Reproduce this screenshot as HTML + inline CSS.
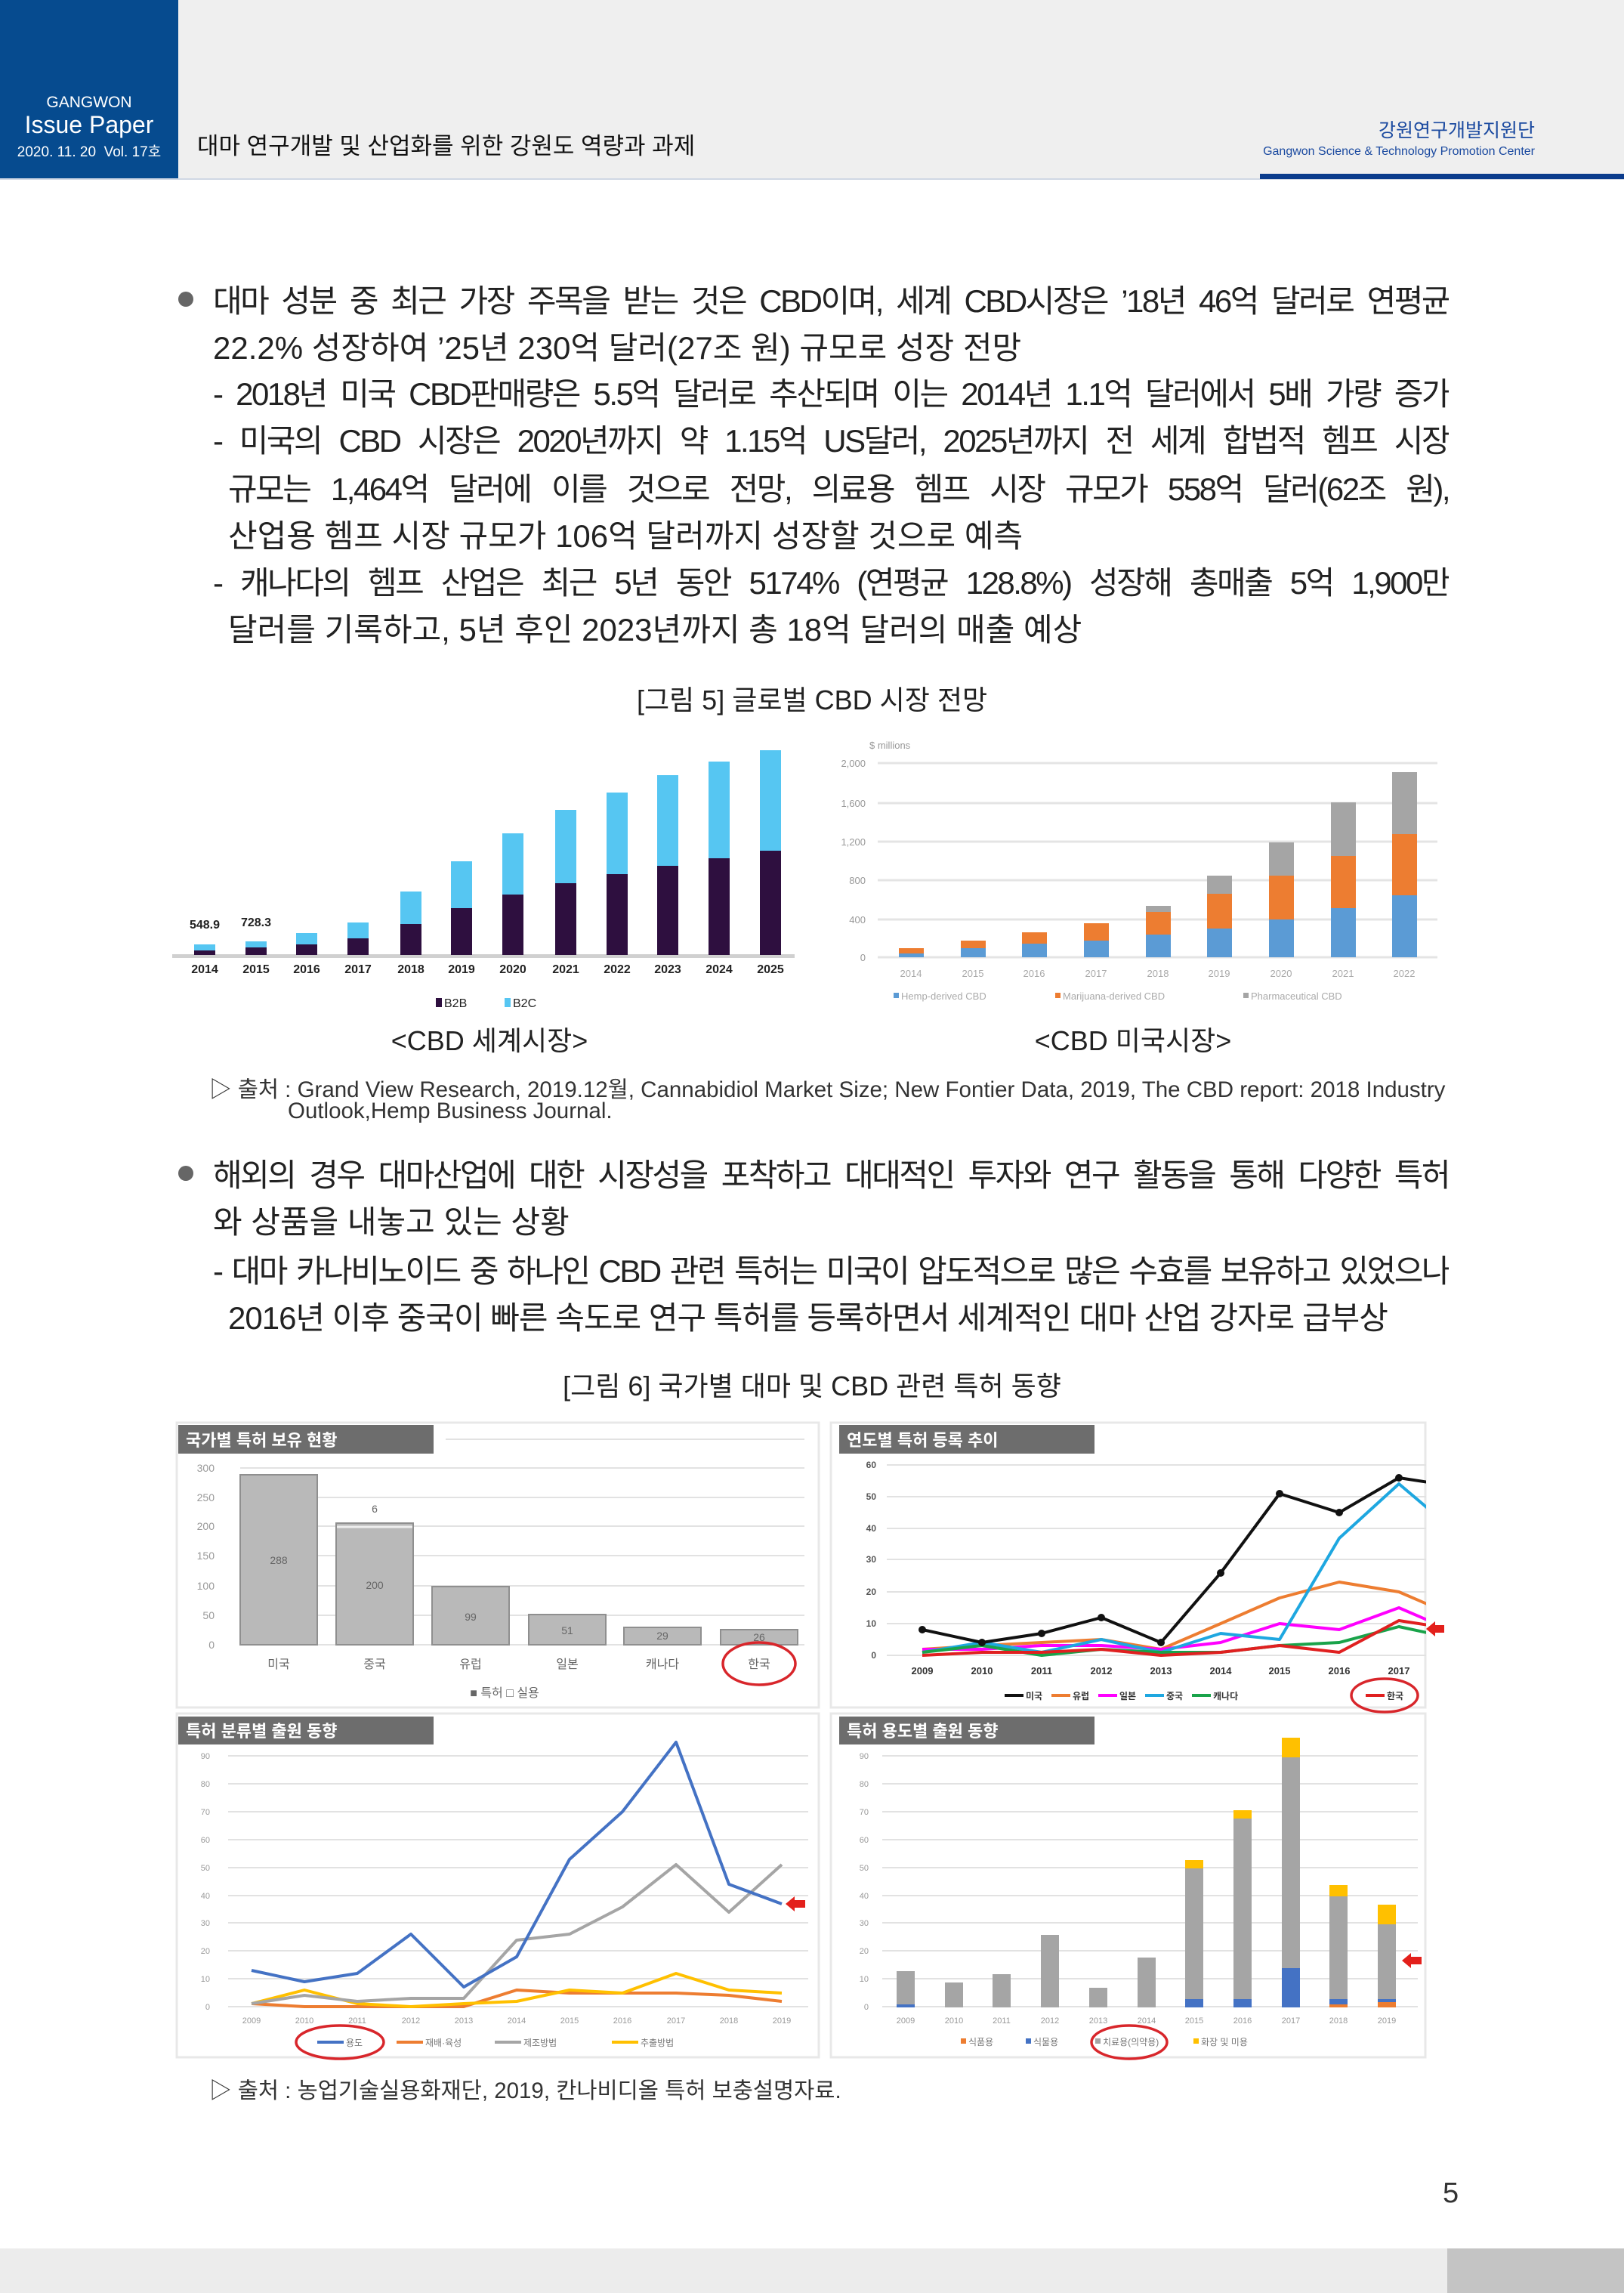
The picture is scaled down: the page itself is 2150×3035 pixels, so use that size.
<!DOCTYPE html>
<html><head><meta charset="utf-8">
<style>
html,body{margin:0;padding:0;}
body{width:2150px;height:3035px;position:relative;background:#fff;font-family:"Liberation Sans","Noto Sans CJK KR",sans-serif;color:#222;overflow:hidden;}
.a{position:absolute;white-space:nowrap;}
.t{position:absolute;font-size:42px;line-height:60px;height:60px;white-space:nowrap;color:#222;}
.j{text-align:justify;text-align-last:justify;white-space:normal;overflow:hidden;letter-spacing:-2.5px;}
svg{position:absolute;left:0;top:0;}
</style></head><body>
<div class="a" style="left:0;top:0;width:2150px;height:236px;background:#efefef;"></div>
<div class="a" style="left:0;top:0;width:236px;height:236px;background:#064b8f;"></div>
<div class="a" style="left:0;top:236px;width:2150px;height:2px;background:#d0d8e4;"></div>
<div class="a" style="left:1668px;top:230px;width:482px;height:7px;background:#0b3c8c;"></div>
<div class="a" style="left:0;top:124px;width:236px;text-align:center;color:#fff;font-size:21px;">GANGWON</div>
<div class="a" style="left:0;top:147px;width:236px;text-align:center;color:#fff;font-size:32px;">Issue Paper</div>
<div class="a" style="left:0;top:186px;width:236px;text-align:center;color:#fff;font-size:19px;">2020. 11. 20 &nbsp;Vol. 17호</div>
<div class="a" style="left:261px;top:168px;font-size:31px;color:#111;">대마 연구개발 및 산업화를 위한 강원도 역량과 과제</div>
<div class="a" style="left:1600px;top:153px;width:432px;text-align:right;font-size:25px;color:#1b4aa0;">강원연구개발지원단</div>
<div class="a" style="left:1600px;top:192px;width:432px;text-align:right;font-size:16px;color:#1b4aa0;">Gangwon Science &amp; Technology Promotion Center</div>

<div class="a" style="left:236px;top:386px;width:20px;height:20px;border-radius:50%;background:#666;"></div>
<div class="t j" style="left:282px;top:369px;width:1636px;">대마 성분 중 최근 가장 주목을 받는 것은 CBD이며, 세계 CBD시장은 ’18년 46억 달러로 연평균</div>
<div class="t" style="left:282px;top:431px;">22.2% 성장하여 ’25년 230억 달러(27조 원) 규모로 성장 전망</div>
<div class="t j" style="left:282px;top:492px;width:1636px;">- 2018년 미국 CBD판매량은 5.5억 달러로 추산되며 이는 2014년 1.1억 달러에서 5배 가량 증가</div>
<div class="t j" style="left:282px;top:554px;width:1636px;">- 미국의 CBD 시장은 2020년까지 약 1.15억 US달러, 2025년까지 전 세계 합법적 헴프 시장</div>
<div class="t j" style="left:302px;top:618px;width:1616px;">규모는 1,464억 달러에 이를 것으로 전망, 의료용 헴프 시장 규모가 558억 달러(62조 원),</div>
<div class="t" style="left:302px;top:680px;">산업용 헴프 시장 규모가 106억 달러까지 성장할 것으로 예측</div>
<div class="t j" style="left:282px;top:742px;width:1636px;">- 캐나다의 헴프 산업은 최근 5년 동안 5174% (연평균 128.8%) 성장해 총매출 5억 1,900만</div>
<div class="t" style="left:302px;top:804px;">달러를 기록하고, 5년 후인 2023년까지 총 18억 달러의 매출 예상</div>

<div class="a" style="left:0;top:898px;width:2150px;text-align:center;font-size:36px;">[그림 5] 글로벌 CBD 시장 전망</div>
<div class="a" style="left:448px;top:1349px;width:400px;text-align:center;font-size:36px;">&lt;CBD 세계시장&gt;</div>
<div class="a" style="left:1300px;top:1349px;width:400px;text-align:center;font-size:36px;">&lt;CBD 미국시장&gt;</div>
<div class="a" style="left:277px;top:1419px;font-size:29.5px;color:#333;">▷ 출처 : Grand View Research, 2019.12월, Cannabidiol Market Size; New Fontier Data, 2019, The CBD report: 2018 Industry</div>
<div class="a" style="left:381px;top:1454px;font-size:29.5px;color:#333;">Outlook,Hemp Business Journal.</div>

<div class="a" style="left:236px;top:1543px;width:20px;height:20px;border-radius:50%;background:#666;"></div>
<div class="t j" style="left:282px;top:1526px;width:1636px;">해외의 경우 대마산업에 대한 시장성을 포착하고 대대적인 투자와 연구 활동을 통해 다양한 특허</div>
<div class="t" style="left:282px;top:1588px;">와 상품을 내놓고 있는 상황</div>
<div class="t j" style="left:282px;top:1653px;width:1636px;">- 대마 카나비노이드 중 하나인 CBD 관련 특허는 미국이 압도적으로 많은 수효를 보유하고 있었으나</div>
<div class="t" style="left:302px;top:1715px;letter-spacing:-1px;">2016년 이후 중국이 빠른 속도로 연구 특허를 등록하면서 세계적인 대마 산업 강자로 급부상</div>
<div class="a" style="left:0;top:1806px;width:2150px;text-align:center;font-size:36px;">[그림 6] 국가별 대마 및 CBD 관련 특허 동향</div>
<div class="a" style="left:277px;top:2744px;font-size:29.5px;color:#333;">▷ 출처 : 농업기술실용화재단, 2019, 칸나비디올 특허 보충설명자료.</div>
<div class="a" style="left:1910px;top:2882px;font-size:38px;color:#333;">5</div>
<div class="a" style="left:0;top:2976px;width:2150px;height:59px;background:#ececec;"></div>
<div class="a" style="left:1916px;top:2976px;width:234px;height:59px;background:#c4c4c4;"></div>

<svg width="2150" height="3035" viewBox="0 0 2150 3035" font-family="Liberation Sans, Noto Sans CJK KR, sans-serif">
<g>
<rect x="228" y="1263" width="824" height="5" fill="#d0d0d0"/>
<g fill="#56c6f2">
<rect x="257" y="1250" width="28" height="14"/><rect x="325" y="1246" width="28" height="18"/><rect x="392" y="1235" width="28" height="29"/><rect x="460" y="1221" width="28" height="43"/><rect x="530" y="1180" width="28" height="84"/><rect x="597" y="1140" width="28" height="124"/><rect x="665" y="1103" width="28" height="161"/><rect x="735" y="1072" width="28" height="192"/><rect x="803" y="1049" width="28" height="215"/><rect x="870" y="1026" width="28" height="238"/><rect x="938" y="1008" width="28" height="256"/><rect x="1006" y="993" width="28" height="271"/>
</g>
<g fill="#2e0f3f">
<rect x="257" y="1258" width="28" height="6"/><rect x="325" y="1254" width="28" height="10"/><rect x="392" y="1250" width="28" height="14"/><rect x="460" y="1242" width="28" height="22"/><rect x="530" y="1223" width="28" height="41"/><rect x="597" y="1202" width="28" height="62"/><rect x="665" y="1184" width="28" height="80"/><rect x="735" y="1169" width="28" height="95"/><rect x="803" y="1157" width="28" height="107"/><rect x="870" y="1146" width="28" height="118"/><rect x="938" y="1136" width="28" height="128"/><rect x="1006" y="1126" width="28" height="138"/>
</g>
<g font-size="16" fill="#222" text-anchor="middle" font-weight="bold">
<text x="271" y="1229">548.9</text><text x="339" y="1226">728.3</text>
<text x="271" y="1288">2014</text><text x="339" y="1288">2015</text><text x="406" y="1288">2016</text><text x="474" y="1288">2017</text><text x="544" y="1288">2018</text><text x="611" y="1288">2019</text><text x="679" y="1288">2020</text><text x="749" y="1288">2021</text><text x="817" y="1288">2022</text><text x="884" y="1288">2023</text><text x="952" y="1288">2024</text><text x="1020" y="1288">2025</text>
</g>
<rect x="577" y="1321" width="8" height="12" fill="#2e0f3f"/><text x="588" y="1333" font-size="16" fill="#222">B2B</text>
<rect x="668" y="1321" width="8" height="12" fill="#56c6f2"/><text x="679" y="1333" font-size="16" fill="#222">B2C</text>
</g>
<g>
<g stroke="#e4e4e4" stroke-width="3">
<line x1="1162" y1="1010" x2="1903" y2="1010"/><line x1="1162" y1="1063" x2="1903" y2="1063"/><line x1="1162" y1="1114" x2="1903" y2="1114"/><line x1="1162" y1="1165" x2="1903" y2="1165"/><line x1="1162" y1="1217" x2="1903" y2="1217"/><line x1="1162" y1="1267" x2="1903" y2="1267"/>
</g>
<g font-size="13" fill="#999" text-anchor="end">
<text x="1146" y="1015">2,000</text><text x="1146" y="1068">1,600</text><text x="1146" y="1119">1,200</text><text x="1146" y="1170">800</text><text x="1146" y="1222">400</text><text x="1146" y="1272">0</text>
</g>
<text x="1151" y="991" font-size="13" fill="#999">$ millions</text>
<g fill="#5b9bd5">
<rect x="1190" y="1262" width="33" height="5"/><rect x="1272" y="1255" width="33" height="12"/><rect x="1353" y="1249" width="33" height="18"/><rect x="1435" y="1245" width="33" height="22"/><rect x="1517" y="1237" width="33" height="30"/><rect x="1598" y="1229" width="33" height="38"/><rect x="1680" y="1217" width="33" height="50"/><rect x="1762" y="1202" width="33" height="65"/><rect x="1843" y="1185" width="33" height="82"/>
</g>
<g fill="#ed7d31">
<rect x="1190" y="1255" width="33" height="7"/><rect x="1272" y="1245" width="33" height="10"/><rect x="1353" y="1234" width="33" height="15"/><rect x="1435" y="1222" width="33" height="23"/><rect x="1517" y="1207" width="33" height="30"/><rect x="1598" y="1183" width="33" height="46"/><rect x="1680" y="1159" width="33" height="58"/><rect x="1762" y="1133" width="33" height="69"/><rect x="1843" y="1104" width="33" height="81"/>
</g>
<g fill="#a5a5a5">
<rect x="1517" y="1199" width="33" height="8"/><rect x="1598" y="1159" width="33" height="24"/><rect x="1680" y="1115" width="33" height="44"/><rect x="1762" y="1062" width="33" height="71"/><rect x="1843" y="1022" width="33" height="82"/>
</g>
<g font-size="13" fill="#aaa" text-anchor="middle">
<text x="1206" y="1293">2014</text><text x="1288" y="1293">2015</text><text x="1369" y="1293">2016</text><text x="1451" y="1293">2017</text><text x="1533" y="1293">2018</text><text x="1614" y="1293">2019</text><text x="1696" y="1293">2020</text><text x="1778" y="1293">2021</text><text x="1859" y="1293">2022</text>
</g>
<g font-size="13" fill="#aaa">
<rect x="1183" y="1314" width="7" height="7" fill="#5b9bd5"/><text x="1193" y="1323">Hemp-derived CBD</text>
<rect x="1397" y="1314" width="7" height="7" fill="#ed7d31"/><text x="1407" y="1323">Marijuana-derived CBD</text>
<rect x="1646" y="1314" width="7" height="7" fill="#a5a5a5"/><text x="1656" y="1323">Pharmaceutical CBD</text>
</g>
</g>

<g fill="none" stroke="#e8e8e8" stroke-width="3">
<rect x="234" y="1883" width="850" height="377"/><rect x="1100" y="1883" width="787" height="377"/>
<rect x="234" y="2268" width="850" height="455"/><rect x="1100" y="2268" width="787" height="455"/>
</g>
<g fill="#6d6d6d"><rect x="236" y="1886" width="338" height="38"/><rect x="1111" y="1886" width="338" height="38"/><rect x="236" y="2272" width="338" height="37"/><rect x="1111" y="2272" width="338" height="37"/></g>
<g fill="#fff" font-size="22" font-weight="bold">
<text x="246" y="1914">국가별 특허 보유 현황</text><text x="1121" y="1914">연도별 특허 등록 추이</text>
<text x="246" y="2299">특허 분류별 출원 동향</text><text x="1121" y="2299">특허 용도별 출원 동향</text>
</g>

<g stroke="#e2e2e2" stroke-width="2">
<line x1="590" y1="1905" x2="1065" y2="1905"/><line x1="318" y1="1943" x2="1065" y2="1943"/><line x1="318" y1="1982" x2="1065" y2="1982"/><line x1="318" y1="2020" x2="1065" y2="2020"/><line x1="318" y1="2059" x2="1065" y2="2059"/><line x1="318" y1="2099" x2="1065" y2="2099"/><line x1="318" y1="2138" x2="1065" y2="2138"/><line x1="318" y1="2177" x2="1065" y2="2177"/>
</g>
<g font-size="14" fill="#999" text-anchor="end">
<text x="284" y="1948">300</text><text x="284" y="1987">250</text><text x="284" y="2025">200</text><text x="284" y="2064">150</text><text x="284" y="2104">100</text><text x="284" y="2143">50</text><text x="284" y="2182">0</text>
</g>
<g fill="#b9b9b9" stroke="#8f8f8f" stroke-width="2">
<rect x="318" y="1952" width="102" height="225"/><rect x="445" y="2016" width="102" height="161"/><rect x="572" y="2100" width="102" height="77"/><rect x="700" y="2137" width="102" height="40"/><rect x="826" y="2154" width="102" height="23"/><rect x="954" y="2157" width="102" height="20"/>
</g>
<line x1="446" y1="2021" x2="546" y2="2021" stroke="#eee" stroke-width="3"/>
<g font-size="14" fill="#666" text-anchor="middle">
<text x="369" y="2070">288</text><text x="496" y="2103">200</text><text x="496" y="2002">6</text><text x="623" y="2145">99</text><text x="751" y="2163">51</text><text x="877" y="2170">29</text><text x="1005" y="2172">26</text>
<text x="369" y="2208" font-size="16">미국</text><text x="496" y="2208" font-size="16">중국</text><text x="623" y="2208" font-size="16">유럽</text><text x="751" y="2208" font-size="16">일본</text><text x="877" y="2208" font-size="16">캐나다</text><text x="1005" y="2208" font-size="16">한국</text>
<text x="668" y="2246" font-size="16">■ 특허 □ 실용</text>
</g>
<ellipse cx="1005" cy="2202" rx="48" ry="28" fill="none" stroke="#d8262b" stroke-width="3.5"/>

<g stroke="#e2e2e2" stroke-width="2">
<line x1="1174" y1="1939" x2="1888" y2="1939"/><line x1="1174" y1="1981" x2="1888" y2="1981"/><line x1="1174" y1="2023" x2="1888" y2="2023"/><line x1="1174" y1="2064" x2="1888" y2="2064"/><line x1="1174" y1="2107" x2="1888" y2="2107"/><line x1="1174" y1="2149" x2="1888" y2="2149"/><line x1="1174" y1="2191" x2="1888" y2="2191"/>
</g>
<g font-size="12" fill="#555" text-anchor="end" font-weight="bold">
<text x="1160" y="1943">60</text><text x="1160" y="1985">50</text><text x="1160" y="2027">40</text><text x="1160" y="2068">30</text><text x="1160" y="2111">20</text><text x="1160" y="2153">10</text><text x="1160" y="2195">0</text>
</g>
<g font-size="13" fill="#333" text-anchor="middle" font-weight="bold">
<text x="1221" y="2216">2009</text><text x="1300" y="2216">2010</text><text x="1379" y="2216">2011</text><text x="1458" y="2216">2012</text><text x="1537" y="2216">2013</text><text x="1616" y="2216">2014</text><text x="1694" y="2216">2015</text><text x="1773" y="2216">2016</text><text x="1852" y="2216">2017</text>
</g>
<clipPath id="c1"><rect x="1170" y="1930" width="718" height="280"/></clipPath>
<g clip-path="url(#c1)" fill="none" stroke-width="4" stroke-linejoin="round">
<polyline stroke="#ed7d31" points="1221,2183 1300,2178 1379,2174 1458,2170 1537,2183 1616,2149 1694,2115 1773,2094 1852,2107 1931,2141"/>
<polyline stroke="#ff00ff" points="1221,2183 1300,2183 1379,2178 1458,2178 1537,2183 1616,2174 1694,2149 1773,2157 1852,2128 1931,2162"/>
<polyline stroke="#1ea7e0" points="1221,2187 1300,2174 1379,2187 1458,2170 1537,2187 1616,2162 1694,2170 1773,2036 1852,1964 1931,2031"/>
<polyline stroke="#19a34a" points="1221,2187 1300,2178 1379,2191 1458,2183 1537,2187 1616,2187 1694,2178 1773,2174 1852,2153 1931,2170"/>
<polyline stroke="#e02020" points="1221,2191 1300,2187 1379,2187 1458,2183 1537,2191 1616,2187 1694,2178 1773,2187 1852,2145 1931,2157"/>
<polyline stroke="#111" points="1221,2157 1300,2174 1379,2162 1458,2141 1537,2174 1616,2082 1694,1977 1773,2002 1852,1956 1931,1968"/>
<g fill="#111" stroke="none"><circle cx="1221" cy="2157" r="5"/><circle cx="1300" cy="2174" r="5"/><circle cx="1379" cy="2162" r="5"/><circle cx="1458" cy="2141" r="5"/><circle cx="1537" cy="2174" r="5"/><circle cx="1616" cy="2082" r="5"/><circle cx="1694" cy="1977" r="5"/><circle cx="1773" cy="2002" r="5"/><circle cx="1852" cy="1956" r="5"/></g>
</g>
<polygon points="1888,2156 1900,2146 1900,2151 1912,2151 1912,2161 1900,2161 1900,2166" fill="#e3201b"/>
<g font-size="12" fill="#333" font-weight="bold">
<line x1="1330" y1="2244" x2="1355" y2="2244" stroke="#111" stroke-width="4"/><text x="1358" y="2249">미국</text>
<line x1="1392" y1="2244" x2="1417" y2="2244" stroke="#ed7d31" stroke-width="4"/><text x="1420" y="2249">유럽</text>
<line x1="1454" y1="2244" x2="1479" y2="2244" stroke="#ff00ff" stroke-width="4"/><text x="1482" y="2249">일본</text>
<line x1="1516" y1="2244" x2="1541" y2="2244" stroke="#1ea7e0" stroke-width="4"/><text x="1544" y="2249">중국</text>
<line x1="1578" y1="2244" x2="1603" y2="2244" stroke="#19a34a" stroke-width="4"/><text x="1606" y="2249">캐나다</text>
<line x1="1808" y1="2244" x2="1833" y2="2244" stroke="#e02020" stroke-width="4"/><text x="1836" y="2249">한국</text>
</g>
<ellipse cx="1833" cy="2244" rx="44" ry="22" fill="none" stroke="#d8262b" stroke-width="3.5"/>

<g stroke="#e2e2e2" stroke-width="2">
<line x1="302" y1="2324" x2="1070" y2="2324"/><line x1="302" y1="2361" x2="1070" y2="2361"/><line x1="302" y1="2398" x2="1070" y2="2398"/><line x1="302" y1="2435" x2="1070" y2="2435"/><line x1="302" y1="2472" x2="1070" y2="2472"/><line x1="302" y1="2509" x2="1070" y2="2509"/><line x1="302" y1="2545" x2="1070" y2="2545"/><line x1="302" y1="2582" x2="1070" y2="2582"/><line x1="302" y1="2619" x2="1070" y2="2619"/><line x1="302" y1="2656" x2="1070" y2="2656"/>
</g>
<g font-size="11" fill="#999" text-anchor="end">
<text x="278" y="2328">90</text><text x="278" y="2365">80</text><text x="278" y="2402">70</text><text x="278" y="2439">60</text><text x="278" y="2476">50</text><text x="278" y="2513">40</text><text x="278" y="2549">30</text><text x="278" y="2586">20</text><text x="278" y="2623">10</text><text x="278" y="2660">0</text>
</g>
<g font-size="11" fill="#999" text-anchor="middle">
<text x="333" y="2678">2009</text><text x="403" y="2678">2010</text><text x="473" y="2678">2011</text><text x="544" y="2678">2012</text><text x="614" y="2678">2013</text><text x="684" y="2678">2014</text><text x="754" y="2678">2015</text><text x="824" y="2678">2016</text><text x="895" y="2678">2017</text><text x="965" y="2678">2018</text><text x="1035" y="2678">2019</text>
</g>
<g fill="none" stroke-width="4" stroke-linejoin="round">
<polyline stroke="#ed7d31" points="333,2652 403,2656 473,2656 544,2656 614,2656 684,2634 754,2638 824,2638 895,2638 965,2641 1035,2649"/>
<polyline stroke="#ffc000" points="333,2652 403,2634 473,2652 544,2656 614,2652 684,2649 754,2634 824,2638 895,2612 965,2634 1035,2638"/>
<polyline stroke="#a5a5a5" points="333,2652 403,2641 473,2649 544,2645 614,2645 684,2568 754,2560 824,2524 895,2468 965,2531 1035,2468"/>
<polyline stroke="#4472c4" points="333,2608 403,2623 473,2612 544,2560 614,2630 684,2590 754,2461 824,2398 895,2306 965,2494 1035,2520"/>
</g>
<polygon points="1040,2520 1052,2510 1052,2515 1066,2515 1066,2525 1052,2525 1052,2530" fill="#e3201b"/>
<g font-size="12" fill="#777">
<line x1="420" y1="2703" x2="455" y2="2703" stroke="#4472c4" stroke-width="4"/><text x="458" y="2708">용도</text>
<line x1="525" y1="2703" x2="560" y2="2703" stroke="#ed7d31" stroke-width="4"/><text x="563" y="2708">재배·육성</text>
<line x1="655" y1="2703" x2="690" y2="2703" stroke="#a5a5a5" stroke-width="4"/><text x="693" y="2708">제조방법</text>
<line x1="810" y1="2703" x2="845" y2="2703" stroke="#ffc000" stroke-width="4"/><text x="848" y="2708">추출방법</text>
</g>
<ellipse cx="450" cy="2703" rx="58" ry="22" fill="none" stroke="#d8262b" stroke-width="3.5"/>

<g stroke="#e2e2e2" stroke-width="2">
<line x1="1168" y1="2324" x2="1877" y2="2324"/><line x1="1168" y1="2361" x2="1877" y2="2361"/><line x1="1168" y1="2398" x2="1877" y2="2398"/><line x1="1168" y1="2435" x2="1877" y2="2435"/><line x1="1168" y1="2472" x2="1877" y2="2472"/><line x1="1168" y1="2509" x2="1877" y2="2509"/><line x1="1168" y1="2545" x2="1877" y2="2545"/><line x1="1168" y1="2582" x2="1877" y2="2582"/><line x1="1168" y1="2619" x2="1877" y2="2619"/><line x1="1168" y1="2656" x2="1877" y2="2656"/>
</g>
<g font-size="11" fill="#999" text-anchor="end">
<text x="1150" y="2328">90</text><text x="1150" y="2365">80</text><text x="1150" y="2402">70</text><text x="1150" y="2439">60</text><text x="1150" y="2476">50</text><text x="1150" y="2513">40</text><text x="1150" y="2549">30</text><text x="1150" y="2586">20</text><text x="1150" y="2623">10</text><text x="1150" y="2660">0</text>
</g>
<g font-size="11" fill="#999" text-anchor="middle">
<text x="1199" y="2678">2009</text><text x="1263" y="2678">2010</text><text x="1326" y="2678">2011</text><text x="1390" y="2678">2012</text><text x="1454" y="2678">2013</text><text x="1518" y="2678">2014</text><text x="1581" y="2678">2015</text><text x="1645" y="2678">2016</text><text x="1709" y="2678">2017</text><text x="1772" y="2678">2018</text><text x="1836" y="2678">2019</text>
</g>
<g fill="#a5a5a5">
<rect x="1187" y="2609" width="24" height="44"/><rect x="1251" y="2624" width="24" height="33"/><rect x="1314" y="2613" width="24" height="44"/><rect x="1378" y="2561" width="24" height="96"/><rect x="1442" y="2631" width="24" height="26"/><rect x="1506" y="2591" width="24" height="66"/><rect x="1569" y="2473" width="24" height="173"/><rect x="1633" y="2407" width="24" height="239"/><rect x="1697" y="2326" width="24" height="279"/><rect x="1760" y="2510" width="24" height="136"/><rect x="1824" y="2547" width="24" height="99"/>
</g>
<g fill="#4472c4">
<rect x="1187" y="2653" width="24" height="4"/><rect x="1569" y="2646" width="24" height="11"/><rect x="1633" y="2646" width="24" height="11"/><rect x="1697" y="2605" width="24" height="52"/><rect x="1760" y="2646" width="24" height="7"/><rect x="1824" y="2646" width="24" height="4"/>
</g>
<g fill="#ffc000">
<rect x="1569" y="2462" width="24" height="11"/><rect x="1633" y="2396" width="24" height="11"/><rect x="1697" y="2300" width="24" height="26"/><rect x="1760" y="2495" width="24" height="15"/><rect x="1824" y="2521" width="24" height="26"/>
</g>
<g fill="#ed7d31"><rect x="1760" y="2653" width="24" height="4"/><rect x="1824" y="2650" width="24" height="7"/></g>
<polygon points="1856,2595 1868,2585 1868,2590 1882,2590 1882,2600 1868,2600 1868,2605" fill="#e3201b"/>
<g font-size="12" fill="#777">
<rect x="1272" y="2698" width="7" height="7" fill="#ed7d31"/><text x="1282" y="2707">식품용</text>
<rect x="1358" y="2698" width="7" height="7" fill="#4472c4"/><text x="1368" y="2707">식물용</text>
<rect x="1450" y="2698" width="7" height="7" fill="#a5a5a5"/><text x="1460" y="2707">치료용(의약용)</text>
<rect x="1580" y="2698" width="7" height="7" fill="#ffc000"/><text x="1590" y="2707">화장 및 미용</text>
</g>
<ellipse cx="1495" cy="2703" rx="50" ry="22" fill="none" stroke="#d8262b" stroke-width="3.5"/>
</svg>
</body></html>
